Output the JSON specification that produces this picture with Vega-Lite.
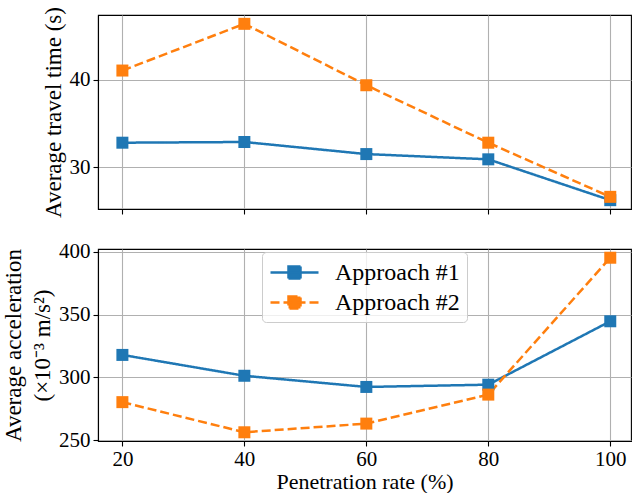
{
  "$schema": "https://vega.github.io/schema/vega-lite/v6.json",
  "padding": {"left": 1, "top": 5, "right": 0, "bottom": 0},
  "bounds": "flush",
  "spacing": 40,
  "background": "white",
  "data": {"values": [
    {"rate": 20, "approach": "Approach #1", "time": 32.82, "accel": 317.9},
    {"rate": 40, "approach": "Approach #1", "time": 32.9, "accel": 301.3},
    {"rate": 60, "approach": "Approach #1", "time": 31.52, "accel": 292.4},
    {"rate": 80, "approach": "Approach #1", "time": 30.92, "accel": 294.2},
    {"rate": 100, "approach": "Approach #1", "time": 26.25, "accel": 344.7},
    {"rate": 20, "approach": "Approach #2", "time": 41.07, "accel": 280.3},
    {"rate": 40, "approach": "Approach #2", "time": 46.41, "accel": 256.3},
    {"rate": 60, "approach": "Approach #2", "time": 39.39, "accel": 263.2},
    {"rate": 80, "approach": "Approach #2", "time": 32.82, "accel": 286.3},
    {"rate": 100, "approach": "Approach #2", "time": 26.63, "accel": 395.3}
  ]},
  "resolve": {"legend": {"color": "independent", "strokeDash": "independent"}},
  "vconcat": [
    {
      "width": 533,
      "height": 194,
      "encoding": {
        "x": {"field": "rate", "type": "quantitative",
              "scale": {"domain": [16, 103.4], "nice": false, "zero": false},
              "axis": {"values": [20, 40, 60, 80, 100], "labels": false, "title": null}},
        "y": {"field": "time", "type": "quantitative",
              "scale": {"domain": [25.24, 47.42], "nice": false, "zero": false},
              "axis": {"values": [30, 40], "title": "Average travel time (s)"}},
        "color": {"field": "approach", "type": "nominal",
                  "scale": {"domain": ["Approach #1", "Approach #2"], "range": ["#1f77b4", "#ff7f0e"]},
                  "legend": null}
      },
      "layer": [
        {"mark": {"type": "line", "strokeWidth": 2.5},
         "encoding": {"strokeDash": {"field": "approach", "type": "nominal",
                       "scale": {"domain": ["Approach #1", "Approach #2"], "range": [[1, 0], [9, 4]]},
                       "legend": null}}},
        {"mark": {"type": "point", "shape": "square", "filled": true, "size": 144, "opacity": 1}}
      ]
    },
    {
      "width": 533,
      "height": 192,
      "encoding": {
        "x": {"field": "rate", "type": "quantitative",
              "scale": {"domain": [16, 103.4], "nice": false, "zero": false},
              "axis": {"values": [20, 40, 60, 80, 100], "title": "Penetration rate (%)", "titlePadding": 2, "labelPadding": 2, "titleFontSize": 22}},
        "y": {"field": "accel", "type": "quantitative",
              "scale": {"domain": [249.35, 402.25], "nice": false, "zero": false},
              "axis": {"values": [250, 300, 350, 400], "title": ["Average acceleration", "(×10⁻³ m/s²)"], "titleLineHeight": 29}},
        "color": {"field": "approach", "type": "nominal",
                  "scale": {"domain": ["Approach #1", "Approach #2"], "range": ["#1f77b4", "#ff7f0e"]},
                  "legend": {"title": null, "orient": "none", "legendX": 164, "legendY": 3,
                             "symbolType": "M-2,0H2M-0.5,-0.5H0.5V0.5H-0.5Z", "symbolSize": 576,
                             "symbolStrokeWidth": 2.5, "labelFontSize": 24, "labelOffset": 27, "symbolOffset": 12,
                             "rowPadding": 4, "padding": 7, "strokeColor": "#cccccc",
                             "fillColor": "rgba(255,255,255,0.8)", "cornerRadius": 4,
                             "encode": {"symbols": {"update": {"fill": {"scale": "color", "field": "value"}, "opacity": {"value": 1}}}}}}
      },
      "layer": [
        {"mark": {"type": "line", "strokeWidth": 2.5},
         "encoding": {"strokeDash": {"field": "approach", "type": "nominal",
                       "scale": {"domain": ["Approach #1", "Approach #2"], "range": [[1, 0], [9, 4]]}}}},
        {"mark": {"type": "point", "shape": "square", "filled": true, "size": 144, "opacity": 1}}
      ]
    }
  ],
  "config": {
    "font": "Liberation Serif",
    "view": {"stroke": "black", "strokeWidth": 1.1},
    "axis": {
      "labelFont": "Liberation Serif", "labelFontSize": 21, "labelColor": "black", "labelPadding": 3,
      "titleFont": "Liberation Serif", "titleFontSize": 23, "titleFontWeight": "normal", "titleColor": "black", "titlePadding": 4,
      "domainColor": "black", "domainWidth": 1.1, "tickColor": "black", "tickSize": 5, "tickWidth": 1.1,
      "gridColor": "#b0b0b0", "gridWidth": 1.1
    },
    "legend": {"labelFont": "Liberation Serif", "labelColor": "black"}
  }
}
